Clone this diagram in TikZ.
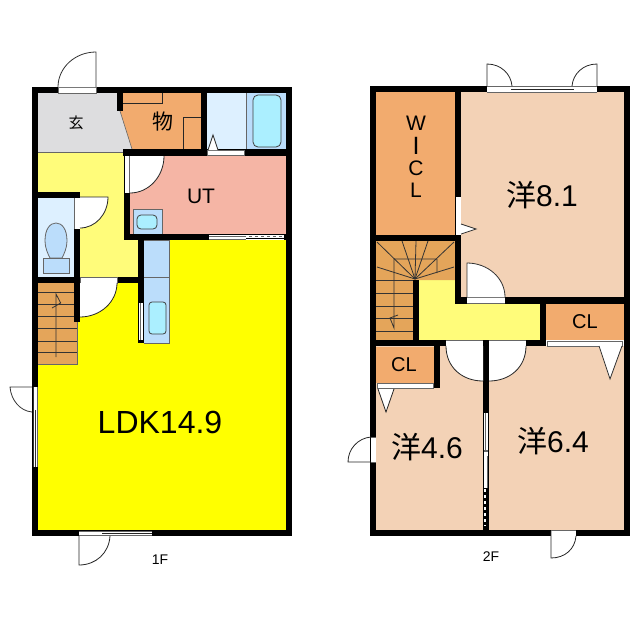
\documentclass[tikz,border=0pt]{standalone}
\usepackage{fontspec}
\setmainfont{Liberation Sans}
\newfontfamily\jpfont{Noto Sans CJK JP}
\definecolor{genkan}{HTML}{DDDDDF}
\definecolor{orangeroom}{HTML}{F2AB6E}
\definecolor{hall}{HTML}{FFFC7A}
\definecolor{ldk}{HTML}{FFFF00}
\definecolor{pinkroom}{HTML}{F5B5A5}
\definecolor{wash}{HTML}{DDF0FF}
\definecolor{fixture}{HTML}{BBDDFB}
\definecolor{aquafix}{HTML}{ABEFFF}
\definecolor{stairc}{HTML}{E4A55A}
\definecolor{beige}{HTML}{F3D2B6}
\definecolor{graylin}{HTML}{666666}
\tikzset{
  wall/.style={fill=black,draw=none},
  opening/.style={fill=white,draw=graylin,line width=0.6pt},
  thinl/.style={draw=black!85,line width=0.8pt},
  doorleaf/.style={fill=white,draw=black!80,line width=0.8pt},
  fix/.style={fill=fixture,draw=graylin,line width=0.8pt},
  aq/.style={fill=aquafix,draw=black!75,line width=0.8pt,rounded corners=3pt},
  tread/.style={draw=black!80,line width=0.8pt},
  lbl/.style={inner sep=0pt,text=black},
}
\newcommand{\sz}[1]{\fontsize{#1}{#1}\selectfont}
\begin{document}
\begin{tikzpicture}[x=1pt,y=-1pt]
\useasboundingbox (0,0) rectangle (640,640);
% ---------- 1F rooms
\fill[genkan] (38,93) -- (120,93) -- (133,152) -- (38,152) -- cycle;
\fill[hall] (38,152) -- (124,152) -- (124,240) -- (138,240) -- (138,277) -- (80,277) -- (80,192) -- (38,192) -- cycle;
\fill[orangeroom] (122,93) -- (201,93) -- (201,149) -- (132,149) -- (120,111) -- cycle;
\fill[wash] (207,93) rectangle (246,150);
\fill[fixture] (246,93) rectangle (286,150);
\fill[pinkroom] (130,156) rectangle (286,234);
\fill[ldk] (38,283) -- (80,283) -- (80,277) -- (138,277) -- (138,240) -- (286,240) -- (286,530) -- (38,530) -- cycle;
\fill[wash] (38,198) rectangle (74,277);
\draw[graylin,line width=0.8pt] (38,152.5) -- (124,152.5);
\draw[graylin,line width=0.6pt] (120,111) -- (132,149);
% storage details
\draw[thinl] (122,103) -- (162,103) -- (162,93);
\draw[thinl] (183,149) -- (183,117) -- (201,117);
% tub
\draw[aq,rounded corners=5pt] (253,95) rectangle (281,147);
\draw[graylin,line width=0.6pt] (246,93) -- (246,150);
% counter
\fill[fixture] (144,240) rectangle (169,343);
\draw[graylin,line width=0.8pt] (144,240) -- (169,240) -- (169,343) -- (144,343);
\draw[graylin,line width=0.8pt] (144,277) -- (169,277);
\draw[aq] (149,302) rectangle (166,334);
% basin
\draw[fix] (133,209) rectangle (162,234);
\draw[aq,rounded corners=4pt] (137,215) rectangle (157,229);
% toilet
\draw[fix] (45,241) .. controls (45,229) and (50,223) .. (56,223) .. controls (62,223) and (67,229) .. (67,241) .. controls (67,248) and (64,254) .. (62,258) -- (50,258) .. controls (48,254) and (45,248) .. (45,241) -- cycle;
\draw[fix] (43,258) rectangle (69,273);
% stairs 1F
\fill[stairc] (38,283) rectangle (77,364);
\draw[graylin,line width=0.6pt] (77,322) -- (77,364) -- (38,364);
\foreach \yy in {292,304,316,328,341,352} \draw[tread] (38,\yy) -- (77,\yy);
\draw[tread] (56,357) -- (56,294) -- (60.7,303) -- (52,308);
% ---------- 1F walls
\fill[wall] (32,87) rectangle (292,93);
\fill[wall] (32,530) rectangle (292,536);
\fill[wall] (32,87) rectangle (38,536);
\fill[wall] (286,87) rectangle (292,536);
\fill[wall] (117,93) rectangle (123,111);
\fill[wall] (123,149) rectangle (286,156);
\fill[wall] (201,93) rectangle (207,156);
\fill[wall] (124,149) rectangle (130,240);
\fill[wall] (124,234) rectangle (286,240);
\fill[wall] (38,192) rectangle (80,198);
\fill[wall] (74,192) rectangle (80,322);
\fill[wall] (38,277) rectangle (80,283);
\fill[wall] (117,277) rectangle (144,283);
\fill[wall] (138,240) rectangle (144,343);
% ---------- 1F openings and doors
\draw[opening] (58,87.5) rectangle (96,93);
\draw[doorleaf] (58,87) arc[start angle=180,end angle=270,x radius=38,y radius=35] -- (96,87);
\draw[opening] (207,150) rectangle (244,155);
\draw[doorleaf] (208,150) -- (213,135) -- (218,150);
\fill[white] (124.5,156) rectangle (129.5,193);
\draw[graylin,line width=0.6pt] (129.5,156) -- (129.5,193);
\fill[white] (130,156) -- (164,156) arc[start angle=0,end angle=90,x radius=34,y radius=37] -- cycle;
\draw[thinl] (164,156) arc[start angle=0,end angle=90,x radius=34,y radius=37];
\fill[white] (74.5,198) rectangle (79.5,229);
\draw[graylin,line width=0.6pt] (74.5,198) -- (74.5,229);
\fill[white] (80,197) -- (108,197) arc[start angle=0,end angle=90,x radius=28,y radius=31] -- cycle;
\draw[thinl] (80,197) -- (108,197) arc[start angle=0,end angle=90,x radius=28,y radius=31];
\draw[opening] (80,277.5) rectangle (117,283);
\fill[white] (80,283) -- (117,283) arc[start angle=0,end angle=90,x radius=37,y radius=34] -- cycle;
\draw[thinl] (117,283) arc[start angle=0,end angle=90,x radius=37,y radius=34];
% UT window
\fill[white] (209,235) rectangle (284,239.5);
\draw[graylin,line width=0.6pt] (209,236.5) -- (284,236.5);
\draw[graylin,line width=0.6pt] (209,239.5) -- (246,239.5);
\draw[black,line width=1.2pt] (246,238.5) -- (284,238.5);
\draw[white,line width=1.2pt,dash pattern=on 3pt off 3pt] (246,236.8) -- (284,236.8);
% counter window
\fill[white] (138.5,303) rectangle (143,340);
\draw[graylin,line width=0.6pt] (140.5,303) -- (140.5,340);
% LDK west door
\fill[white] (32.5,387) rectangle (37.5,467);
\draw[black!80,line width=0.7pt] (33,387) -- (33,467);
\draw[black!80,line width=0.7pt] (35.5,410) -- (35.5,467);
\draw[graylin,line width=0.6pt] (37.5,387) -- (37.5,467);
\draw[doorleaf,fill=none] (32,387) -- (10,387) .. controls (11,400) and (20,411) .. (32,412);
% LDK south door
\fill[white] (79,531) rectangle (152,535.5);
\draw[graylin,line width=0.6pt] (79,531) -- (152,531);
\draw[graylin,line width=0.6pt] (79,535.5) -- (152,535.5);
\draw[black!85,line width=0.8pt] (102,533) -- (152,533);
\draw[thinl] (79,536) -- (79,565) .. controls (96,565) and (109,553) .. (110,536);
% ---------- 2F rooms
\fill[orangeroom] (376,92) rectangle (455,235);
\fill[beige] (461,92) rectangle (624,297);
\fill[beige] (376,346) rectangle (624,530);
\fill[orangeroom] (546,304) rectangle (624,340);
\fill[orangeroom] (376,347) rectangle (434,383);
\fill[hall] (419,280) -- (455,280) -- (455,304) -- (540,304) -- (540,340) -- (419,340) -- cycle;
\fill[stairc] (376,241) -- (455,241) -- (455,280) -- (413,280) -- (413,340) -- (376,340) -- cycle;
% stairs 2F
\foreach \ex/\ey in {377/242,402/241,416/241,428/241,454/242,377/267,454/267} \draw[tread] (415,279) -- (\ex,\ey);
\foreach \yy in {280,293,306,318,331} \draw[tread] (376,\yy) -- (413,\yy);
\draw[tread] (437,273) -- (437,259) -- (394,259) -- (394,328) -- (390,318) -- (398,315);
% ---------- 2F walls
\fill[wall] (370,86) rectangle (630,92);
\fill[wall] (370,530) rectangle (630,536);
\fill[wall] (370,86) rectangle (376,536);
\fill[wall] (624,86) rectangle (630,536);
\fill[wall] (455,86) rectangle (461,303);
\fill[wall] (370,235) rectangle (461,241);
\fill[wall] (455,297) rectangle (630,304);
\fill[wall] (413,280) rectangle (419,346);
\fill[wall] (370,340) rectangle (546,346);
\fill[wall] (540,297) rectangle (546,346);
\fill[wall] (483,340) rectangle (489,536);
\fill[wall] (434,346) rectangle (440,388);
% ---------- 2F openings and doors
\fill[white] (456,197) rectangle (461,235);
\draw[doorleaf] (461,224) -- (476,229) -- (461,234);
\fill[white] (467,297.5) rectangle (505,303);
\draw[graylin,line width=0.6pt] (467,297.5) -- (505,297.5) (467,303) -- (505,303);
\draw[doorleaf] (505,297) arc[start angle=0,end angle=-90,x radius=38,y radius=34] -- (467,297);
\fill[white] (446,340.5) rectangle (483,346);
\fill[white] (489,340.5) rectangle (526,346);
\draw[graylin,line width=0.6pt] (446,340.5) -- (483,340.5) (489,340.5) -- (526,340.5) (446,346) -- (483,346) (489,346) -- (526,346);
\fill[white] (446,346) .. controls (446,367) and (462,381) .. (483,381) -- (483,346) -- cycle;
\fill[white] (526,346) .. controls (526,367) and (510,381) .. (489,381) -- (489,346) -- cycle;
\draw[thinl] (446,346) .. controls (446,367) and (462,381) .. (483,381);
\draw[thinl] (526,346) .. controls (526,367) and (510,381) .. (489,381);
\draw[opening] (547,341) rectangle (622,346);
\draw[doorleaf] (599,346) -- (610,379) -- (622,346);
\draw[opening] (377,383.5) rectangle (433,388);
\fill[white] (378,389) -- (394,389) -- (386,412) -- cycle;
\draw[thinl] (378,389) -- (386,412) -- (394,389);
% 4.6 west door
\fill[white] (371,437) rectangle (376,462);
\draw[graylin,line width=0.6pt] (371,437) -- (376,437) (371,462) -- (376,462);
\draw[thinl] (371,462) -- (348,462) .. controls (348,449) and (358,438) .. (371,437);
% top window 8.1
\fill[white] (487,86.5) rectangle (597,92);
\draw[graylin,line width=0.6pt] (487,92) -- (597,92) (487,86.5) -- (597,86.5);
\draw[black!85,line width=0.9pt] (511,89) -- (574,89);
\draw[thinl] (487,86) -- (487,64) .. controls (501,64) and (511,74) .. (512,86);
\draw[thinl] (597,86) -- (597,64) .. controls (583,64) and (573,74) .. (572,86);
% south door 6.4
\fill[white] (551,530.5) rectangle (576,535.5);
\draw[graylin,line width=0.6pt] (551,530.5) -- (576,530.5);
\draw[thinl] (551,531) -- (551,558) .. controls (565,558) and (575,549) .. (576,536);
% sliding closet between rooms
\fill[white] (484,413) rectangle (488,488);
\fill[graylin] (484,450) rectangle (488,452);
\draw[graylin,line width=0.8pt] (485,413) -- (485,450);
\draw[graylin,line width=0.8pt] (487,456) -- (487,488);
\draw[white,line width=1.2pt,dash pattern=on 3pt off 3pt] (485,489) -- (485,526);
% ---------- labels
\node[lbl] (genkanl) at (76,123) {\jpfont\sz{15}玄};
\node[lbl] (mono) at (163,122) {\jpfont\sz{21}物};
\node[lbl] (utl) at (201,196) {\sz{21}UT};
\node[lbl] (ldkl) at (160,422) {\sz{32}LDK14.9};
\node[lbl] (f1) at (160,560) {\sz{14}1F};
\node[lbl] (wl) at (416,123) {\sz{21}W};
\node[lbl] (il) at (416,146) {\sz{25}I};
\node[lbl] (cl) at (416,168) {\sz{21}C};
\node[lbl] (ll) at (416,190) {\sz{21}L};
\node[lbl] (r81) at (542,195) {{\jpfont\sz{30}洋}{\sz{30}8.1}};
\node[lbl] (clr) at (585,322) {\sz{20}CL};
\node[lbl] (cll) at (404,365) {\sz{20}CL};
\node[lbl] (r46) at (427,447) {{\jpfont\sz{30}洋}{\sz{30}4.6}};
\node[lbl] (r64) at (553,441) {{\jpfont\sz{30}洋}{\sz{30}6.4}};
\node[lbl] (f2) at (491,557) {\sz{14}2F};
\end{tikzpicture}
\end{document}
